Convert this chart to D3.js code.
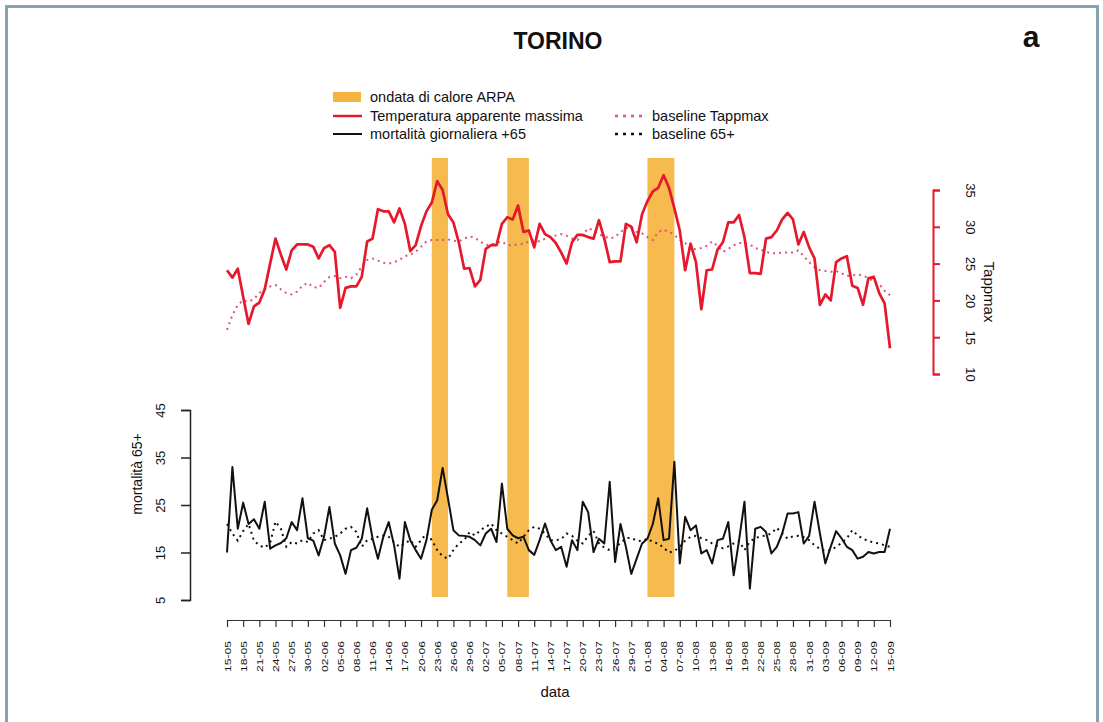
<!DOCTYPE html>
<html><head><meta charset="utf-8">
<script src="https://cdn.jsdelivr.net/npm/d3@7"></script>
<style>
body{margin:0;background:#fff}
svg{display:block}
text{font-family:"Liberation Sans",Arial,Helvetica,sans-serif;fill:#111}
</style>
</head><body>
<svg id="chart" width="1103" height="722"></svg>
<script>
// ---------------- DATA ----------------
const startDay = "15-05-2015";
const endDay = "15-09-2015";

const tappmax = [24.1,23.1,24.3,20.5,16.8,19.2,19.7,21.5,25,28.4,
26.2,24.2,26.8,27.6,27.6,27.6,27.3,25.7,27.1,27.5,
26.6,19.0,21.7,21.9,21.9,23.2,28.0,28.4,32.4,32.1,
32.1,30.6,32.5,30.4,26.7,27.5,30.1,32.1,33.3,36.2,
35.0,31.7,30.6,27.9,24.3,24.4,21.9,22.8,27.0,27.5,
27.5,30.4,31.3,31.0,32.9,29.3,29.5,27.2,30.4,29.0,
28.6,27.8,26.5,25.0,27.9,28.9,28.9,28.6,28.4,30.9,
28.4,25.2,25.3,25.3,30.4,30.0,27.9,31.7,33.5,34.8,
35.3,37.0,35.3,32.5,29.5,24.1,27.7,25.2,18.8,24.1,
24.2,26.9,27.9,30.6,30.6,31.6,28.6,23.7,23.7,23.6,
28.4,28.6,29.5,31.0,31.9,31.0,27.6,29.3,27.2,25.7,
19.4,20.8,20.0,25.2,25.7,26.0,22.0,21.7,19.4,23.0,
23.2,21.0,19.6,13.5];

const baselineTappmax = [16.0,18.0,19.4,20.0,19.8,20.2,21.0,21.6,21.9,22.1,
21.5,21.0,20.8,21.2,22.0,22.4,21.8,21.7,22.5,23.2,
23.3,23.0,23.2,23.0,23.5,24.6,25.5,25.7,25.4,25.1,
25.0,25.2,25.5,26.0,26.2,26.6,27.3,28.0,28.2,28.2,
28.2,28.3,28.1,28.0,28.4,28.7,28.5,28.0,27.5,27.6,
27.8,28.0,27.5,27.5,27.6,27.7,28.0,28.2,28.0,28.4,
28.7,28.8,29.0,28.8,28.4,28.2,28.9,29.8,29.5,29.0,
28.7,28.4,28.6,29.3,29.8,30.0,29.3,29.1,28.6,28.2,
29.3,29.6,29.3,28.9,28.2,27.8,26.9,27.0,27.1,27.4,
28.0,27.4,26.6,27.0,27.5,27.8,27.8,27.6,27.1,26.9,
26.6,26.4,26.4,26.5,26.5,26.5,26.8,26.0,25.2,24.5,
24.1,24.0,23.9,24.0,23.7,23.3,23.4,23.5,23.4,23.0,
22.6,22.2,21.3,20.7];

const mortality = [15,33,20,25.5,21,22,20,25.7,15.8,16.5,
17,18,21.4,19.7,26.4,18,17.5,14.4,18.3,24.6,
16.9,14.4,10.5,15.5,16,17.9,24.3,18,13.7,18.3,
21.4,16.5,9.5,21.4,17.6,15.5,13.7,17.6,24,26,
32.8,26.4,19.7,18.6,18.5,18.3,17.6,16.5,19,20,
17.2,29.5,20,18.6,18,18.3,15.5,14.5,17.6,21.1,
17.6,15.5,16.2,12,17.6,15.5,25.7,23.5,15.1,17.9,
16.9,29.9,13,21,16.2,10.5,13.7,16.9,17.9,21,
26.4,17.6,17.9,34.1,12.7,22.5,19.7,20.7,14.8,15.5,
12.7,17.6,17.9,21.4,10.2,17.6,25.7,7.4,20,20.4,
19.3,14.8,16.2,19,23.2,23.2,23.5,16.9,18.5,25.7,
19,12.7,16.2,19.5,18,16.2,15.5,13.7,14.1,15.1,
14.8,15.1,15.1,20];

const baseline65 = [21,19,17.5,19.5,21,17.5,16.5,16,17,21.5,
20,16.2,17.2,16.9,17.6,17.2,19,19.7,17.6,17.9,
18.3,19,20,20.4,19.3,16.2,17.6,17.9,18.3,18.6,
18.3,17.2,16.2,16.9,17.6,16.2,17.6,19,17.6,15.5,
14.2,13.7,15.5,16.9,17.6,19.3,18.6,19.7,20.4,21.1,
19.7,19,18.3,17.6,16.9,18.3,19.7,20.4,20,19,
17.6,17.6,17.8,19,18.5,17.5,16.9,18.5,19.5,17,
16,15.5,16,17,18,18.1,17.5,17.4,17.9,17.2,
16.9,16,15,15.3,16.2,17.5,18.3,18.5,18,17.6,
16.9,16.4,15.9,16.3,16.9,17.4,15.5,17.3,18,18.4,
18.6,19,20.2,19,17.9,18.4,18.5,18.2,17.6,16.5,
15.8,15.3,15.5,16.2,17,18,19.7,18.6,17.9,17.4,
17.1,16.9,16.5,16.2];

const heatwaves = [["22-06","25-06"],["06-07","10-07"],["01-08","06-08"]];

const xTickLabels = ["15-05","18-05","21-05","24-05","27-05","30-05","02-06","05-06","08-06","11-06",
"14-06","17-06","20-06","23-06","26-06","29-06","02-07","05-07","08-07","11-07",
"14-07","17-07","20-07","23-07","26-07","29-07","01-08","04-08","07-08","10-08",
"13-08","16-08","19-08","22-08","25-08","28-08","31-08","03-09","06-09","09-09",
"12-09","15-09"];
const tappTicks = [10,15,20,25,30,35];
const mortTicks = [5,15,25,35,45];

const title = "TORINO";
const panelLetter = "a";
const legendItems = [
  {label:"ondata di calore ARPA", kind:"band"},
  {label:"Temperatura apparente massima", kind:"red"},
  {label:"mortalità giornaliera +65", kind:"black"},
  {label:"baseline Tappmax", kind:"pinkdot"},
  {label:"baseline 65+", kind:"blackdot"}
];

// ---------------- DRAW ----------------
const RED = "#e5182c", PINK = "#d9587a", BAND = "#f5b43f";
const parse = d3.timeParse("%d-%m-%Y");
const year = "-2015";
const t0 = parse(startDay), t1 = parse(endDay);
const days = d3.timeDay.range(t0, d3.timeDay.offset(t1, 1));

const svg = d3.select("#chart");

// frame
svg.append("rect").attr("x",6.5).attr("y",6.5).attr("width",1091).attr("height",730)
  .attr("fill","none").attr("stroke","#88a3b0").attr("stroke-width",3);

const x = d3.scaleTime().domain([t0, t1]).range([227, 890]);
const yT = d3.scaleLinear().domain([10, 35]).range([374, 190]);
const yM = d3.scaleLinear().domain([5, 45]).range([600, 410]);

// heatwave bands
svg.append("g").selectAll("rect").data(heatwaves).join("rect")
  .attr("x", d => x(parse(d[0]+year)))
  .attr("width", d => x(parse(d[1]+year)) - x(parse(d[0]+year)))
  .attr("y", 158).attr("height", 597-158)
  .attr("fill", BAND).attr("opacity", 0.92);

const lineT = d3.line().x((d,i)=>x(days[i])).y(d=>yT(d));
const lineM = d3.line().x((d,i)=>x(days[i])).y(d=>yM(d));

// baselines (dotted)
svg.append("path").attr("d", lineT(baselineTappmax)).attr("fill","none")
  .attr("stroke", PINK).attr("stroke-width",2).attr("stroke-dasharray","2,4");
svg.append("path").attr("d", lineM(baseline65)).attr("fill","none")
  .attr("stroke", "#111").attr("stroke-width",2).attr("stroke-dasharray","2,4");

// series
svg.append("path").attr("d", lineT(tappmax)).attr("fill","none")
  .attr("stroke", RED).attr("stroke-width",2.7).attr("stroke-linejoin","round");
svg.append("path").attr("d", lineM(mortality)).attr("fill","none")
  .attr("stroke", "#111").attr("stroke-width",2).attr("stroke-linejoin","round");

// right axis (Tappmax)
const gR = svg.append("g").attr("transform","translate(933,0)")
  .call(d3.axisRight(yT).tickValues(tappTicks).tickSize(7).tickSizeOuter(7));
gR.selectAll("path,line").attr("stroke", RED).attr("stroke-width",2);
gR.selectAll("text").attr("font-size",13).attr("fill","#222")
  .attr("x",0).attr("dy",0).attr("text-anchor","middle")
  .attr("transform","translate(33,0) rotate(90)");
svg.append("text").attr("transform","translate(984,292) rotate(90)")
  .attr("text-anchor","middle").attr("font-size",15).text("Tappmax");

// left axis (mortality)
const gL = svg.append("g").attr("transform","translate(190,0)")
  .call(d3.axisLeft(yM).tickValues(mortTicks).tickSize(9).tickSizeOuter(9));
gL.selectAll("path,line").attr("stroke","#222").attr("stroke-width",1.5);
gL.selectAll("text").attr("font-size",13).attr("fill","#222")
  .attr("x",0).attr("dy",0).attr("text-anchor","middle")
  .attr("transform","translate(-25,0) rotate(-90)");
svg.append("text").attr("transform","translate(142,474) rotate(-90)")
  .attr("text-anchor","middle").attr("font-size",14).text("mortalità 65+");

// bottom axis (dates)
const tickDates = xTickLabels.map(s => parse(s+year));
const gB = svg.append("g").attr("transform","translate(0,620)")
  .call(d3.axisBottom(x).tickValues(tickDates).tickFormat((d,i)=>xTickLabels[i])
        .tickSize(7).tickSizeOuter(0));
gB.selectAll("path,line").attr("stroke","#333").attr("stroke-width",1.2);
gB.selectAll("text").attr("font-size",8.5).attr("fill","#333")
  .attr("y",0).attr("dy",0).attr("text-anchor","end")
  .attr("textLength",31).attr("lengthAdjust","spacingAndGlyphs")
  .attr("transform","translate(3,21) rotate(-90)");
svg.append("text").attr("x",555).attr("y",697).attr("text-anchor","middle")
  .attr("font-size",15).text("data");

// title & letter
svg.append("text").attr("x",558).attr("y",49).attr("text-anchor","middle")
  .attr("font-size",23).attr("font-weight","bold").text(title);
svg.append("text").attr("x",1031).attr("y",47).attr("text-anchor","middle")
  .attr("font-size",30).attr("font-weight","bold").text(panelLetter);

// legend
const legPos = [[333,97],[333,116],[333,134],[615,116],[615,134]];
const lg = svg.append("g");
legendItems.forEach((it,i) => {
  const [lx, ly] = legPos[i];
  if (it.kind === "band") {
    lg.append("rect").attr("x",lx).attr("y",ly-5).attr("width",28).attr("height",10).attr("fill",BAND);
  } else {
    const l = lg.append("line").attr("x1",lx).attr("x2",lx+29).attr("y1",ly).attr("y2",ly);
    if (it.kind==="red") l.attr("stroke",RED).attr("stroke-width",2.5);
    if (it.kind==="black") l.attr("stroke","#111").attr("stroke-width",2);
    if (it.kind==="pinkdot") l.attr("stroke",PINK).attr("stroke-width",2.5).attr("stroke-dasharray","3,5");
    if (it.kind==="blackdot") l.attr("stroke","#111").attr("stroke-width",2.5).attr("stroke-dasharray","3,5");
  }
  lg.append("text").attr("x",lx+37).attr("y",ly+5).attr("font-size",14.5).text(it.label);
});
</script>
</body></html>
